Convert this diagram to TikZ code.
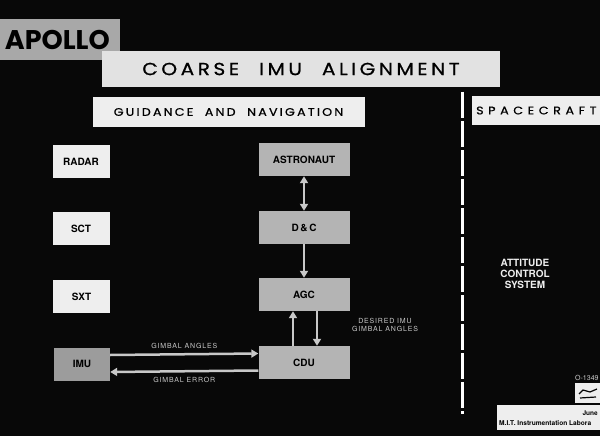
\documentclass[tikz,border=0pt]{standalone}
\usepackage{fontspec}
\setmainfont{TeX Gyre Heros}
\newfontfamily\titlefont[FakeStretch=1.15,FakeBold=0.8,LetterSpace=20]{Poppins}
\newfontfamily\widefont[FakeStretch=1.15,FakeBold=0.8,LetterSpace=42]{Poppins}
\newfontfamily\apollofont{Poppins}
\newfontfamily\smallfont[LetterSpace=12]{TeX Gyre Heros}
\usetikzlibrary{arrows.meta}

\definecolor{board}{HTML}{080808}
\definecolor{paper}{HTML}{EEEEEE}
\definecolor{card}{HTML}{B4B4B4}
\definecolor{darkcard}{HTML}{9C9C9C}
\definecolor{plate}{HTML}{A8A8A8}
\definecolor{wire}{HTML}{C8C8C8}

\begin{document}
\begin{tikzpicture}[x=1pt,y=-1pt,
		whitebox/.style={fill=paper,minimum width=57pt,minimum height=33pt,inner sep=0pt,font=\bfseries\fontsize{10}{12}\selectfont},
		greybox/.style={fill=card,minimum width=91pt,minimum height=33pt,inner sep=0pt,font=\bfseries\fontsize{10}{12}\selectfont},
		flow/.style={draw=wire,line width=2.5pt,-{Triangle[width=8pt,length=7pt]}},
		tag/.style={text=wire,font=\smallfont\fontsize{7}{8.5}\selectfont}]
		\fill[board] (0,0) rectangle (600,436);
		\useasboundingbox (0,0) rectangle (600,436);
		\clip (0,0) rectangle (600,436);

		% headers
		\fill[plate] (0,19) rectangle (120,60);
		\node[anchor=east,inner sep=0pt,font=\apollofont\bfseries\fontsize{27}{27}\selectfont] (apollo) at (110,39.5) {APOLLO};
		\node[fill=paper!95!black,minimum width=398pt,minimum height=36pt,inner sep=0pt,font=\titlefont\fontsize{17.5}{19}\selectfont] (title) at (301,69) {COARSE\hspace{20pt}IMU\hspace{20pt}ALIGNMENT};
		\node[fill=paper,minimum width=272pt,minimum height=30pt,inner sep=0pt,font=\titlefont\fontsize{11}{13}\selectfont] (gn) at (228.5,112) {GUIDANCE\hspace{6pt} AND\hspace{6pt} NAVIGATION};
		\node[fill=paper,anchor=west,minimum height=29pt,inner xsep=4pt,inner ysep=0pt,font=\widefont\fontsize{11}{13}\selectfont] (sc) at (472,110.5) {SPACECRAFT\kern30pt};
		\draw[white,line width=3pt,dash pattern=on 26pt off 3pt] (462,92) -- (462,414);

		% guidance and navigation
		\node[whitebox] (radar) at (81,161.5) {RADAR};
		\node[whitebox] (sct) at (81,228.5) {SCT};
		\node[whitebox] (sxt) at (81.5,296.5) {SXT};
		\node[whitebox,fill=darkcard,minimum width=56pt] (imu) at (82,364) {IMU};

		\node[greybox] (astro) at (304,159.5) {ASTRONAUT};
		\node[greybox] (dc) at (304,227.5) {D\,\&\,C};
		\node[greybox] (agc) at (304,294.5) {AGC};
		\node[greybox] (cdu) at (304,362.5) {CDU};

		\draw[flow,{Triangle[width=8pt,length=7pt]}-{Triangle[width=8pt,length=7pt]}] (astro) -- (dc);
		\draw[flow] (dc) -- (agc);
		\draw[flow] ([xshift=-11pt]cdu.north) -- ([xshift=-11pt]agc.south);
		\draw[flow] ([xshift=13pt]agc.south) -- ([xshift=13pt]cdu.north);
		\draw[flow] ([yshift=9pt]imu.east) -- ([yshift=9pt]cdu.west) node[tag,midway,above=1pt] (ga) {GIMBAL ANGLES};
		\draw[flow] ([yshift=-8pt]cdu.west) -- ([yshift=-8pt]imu.east) node[tag,midway,below=1pt] (ge) {GIMBAL ERROR};
		\node[tag,align=center] (desired) at (385,325) {DESIRED IMU\\GIMBAL ANGLES};

		% spacecraft
		\node[text=paper,align=center,font=\bfseries\fontsize{10}{11}\selectfont] (acs) at (525,274) {ATTITUDE\\CONTROL\\SYSTEM};

		% plate
		\node[text=wire,anchor=west,inner sep=0pt,font=\fontsize{7}{8}\selectfont] (num) at (575,378) {O-1349};
		\node[fill=paper,anchor=north west,minimum width=30pt,minimum height=20pt,inner sep=0pt] (stamp) at (575,383) {};
		\draw[board,line width=1.2pt] (579,394) -- (583,390) -- (590,392) -- (597,389) (580,398) -- (596,397);
		\node[fill=paper,anchor=north west,minimum width=110pt,minimum height=25pt,inner sep=0pt] (lab) at (497,405) {};
		\node[anchor=east,inner sep=0pt,font=\bfseries\fontsize{6.5}{7}\selectfont] (date) at (598,413) {June};
		\node[anchor=west,inner sep=0pt,font=\bfseries\fontsize{6.6}{7}\selectfont] (mit) at (499,423) {M.I.T.\ Instrumentation Labora};
\end{tikzpicture}
\end{document}
